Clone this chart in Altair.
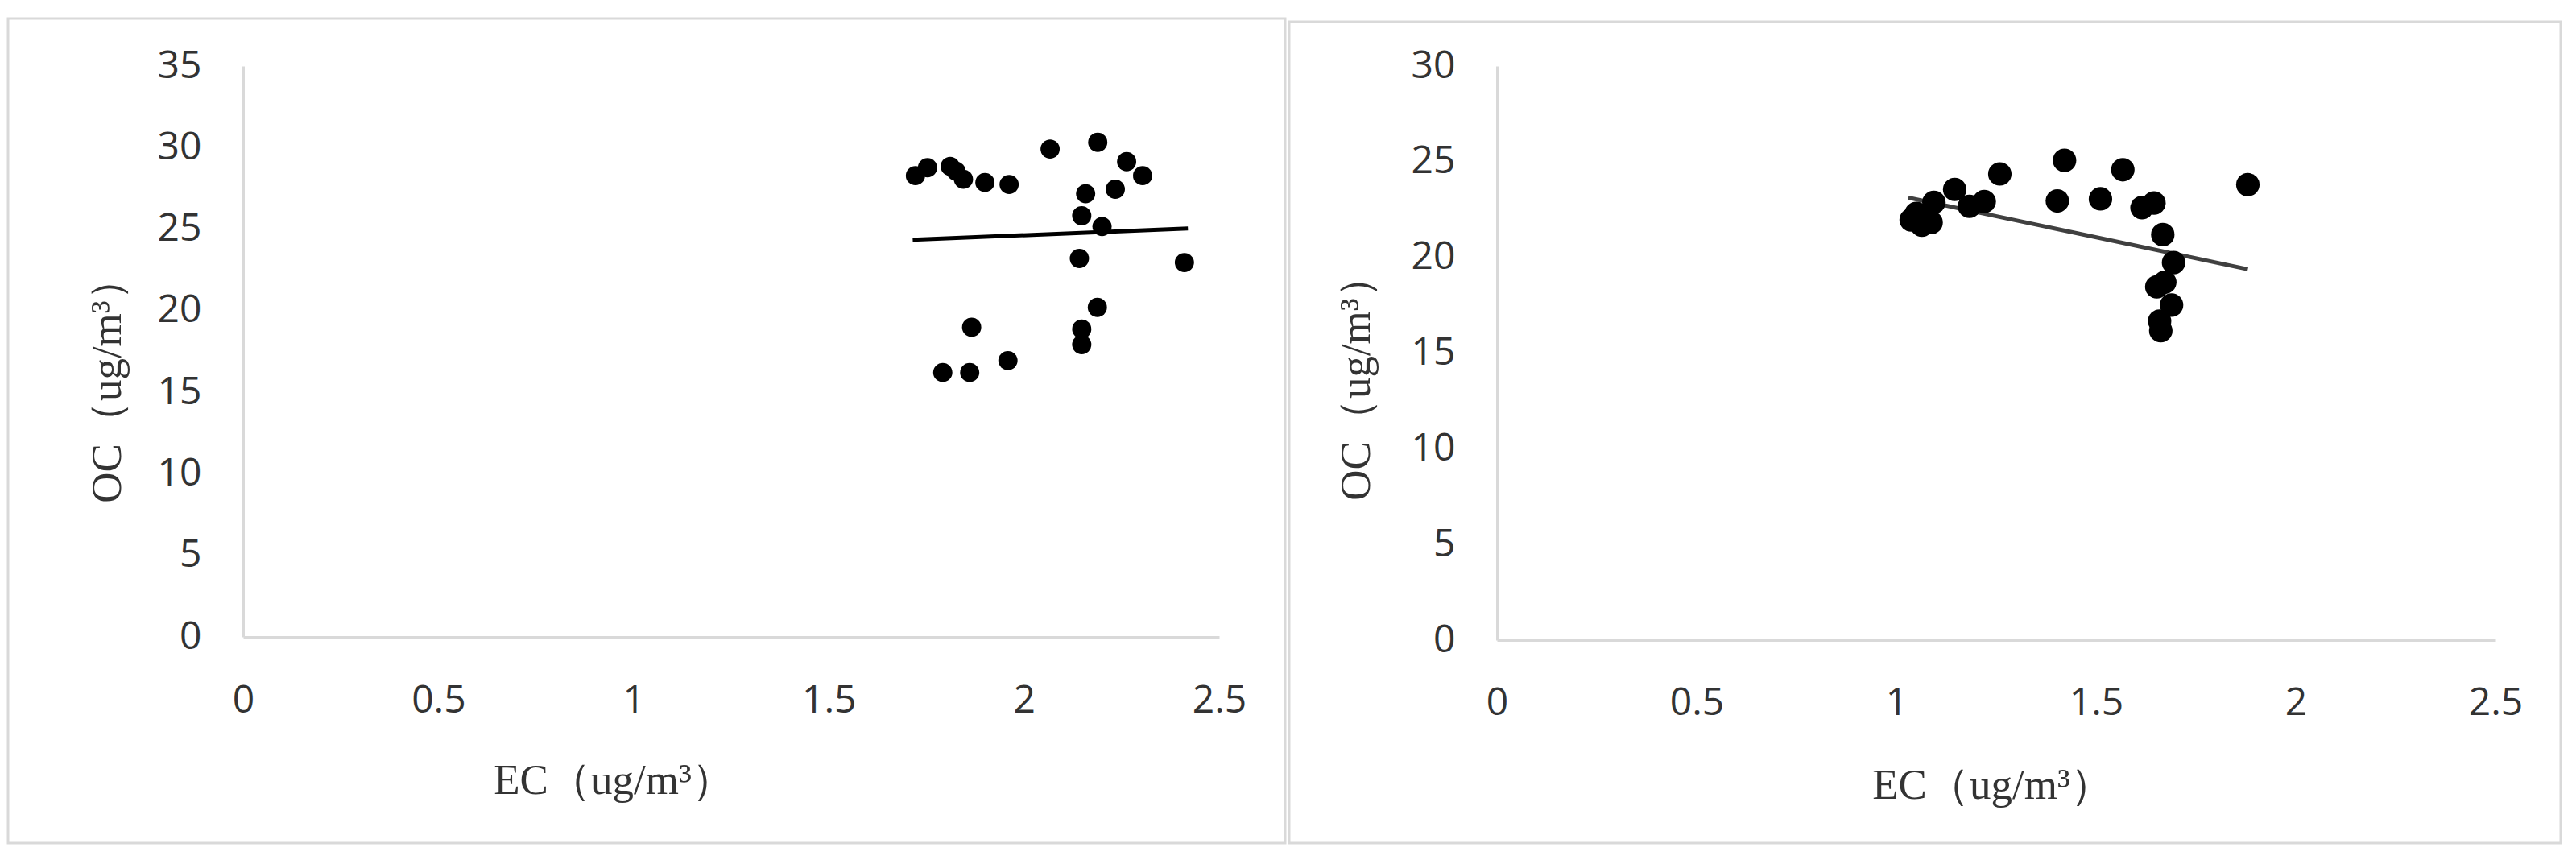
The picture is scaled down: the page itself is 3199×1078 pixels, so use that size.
import altair as alt
import pandas as pd

# ---------------- data ----------------
left_ec = [1.722, 1.753, 1.811, 1.826, 1.845, 1.900, 1.962, 2.067, 2.189, 2.263, 2.304, 2.158,
           2.234, 2.148, 2.200, 2.142, 2.411, 2.188, 2.148, 2.148, 1.866, 1.959, 1.792, 1.861]
left_oc = [28.28, 28.77, 28.85, 28.55, 28.06, 27.86, 27.74, 29.91, 30.32, 29.14, 28.28, 27.17,
           27.45, 25.82, 25.16, 23.20, 22.95, 20.20, 18.87, 17.92, 18.98, 16.94, 16.21, 16.21]
left_trend_ec = [1.715, 2.42]
left_trend_oc = [24.35, 25.04]

right_ec = [1.037, 1.050, 1.064, 1.087, 1.094, 1.146, 1.183, 1.220, 1.259, 1.421, 1.403, 1.511,
            1.567, 1.615, 1.645, 1.667, 1.694, 1.652, 1.672, 1.689, 1.659, 1.662, 1.88]
right_oc = [21.96, 22.30, 21.68, 21.82, 22.88, 23.55, 22.67, 22.92, 24.36, 25.07, 22.95, 23.06,
            24.58, 22.60, 22.84, 21.19, 19.73, 18.46, 18.70, 17.51, 16.67, 16.17, 23.8]
right_trend_ec = [1.03, 1.88]
right_trend_oc = [23.12, 19.38]

x_ticks = [0, 0.5, 1, 1.5, 2, 2.5]
left_y_ticks = [0, 5, 10, 15, 20, 25, 30, 35]
right_y_ticks = [0, 5, 10, 15, 20, 25, 30]

x_title = "EC（ug/m³）"
y_title = "OC（ug/m³）"

LABEL_FONT = "Open Sans"
TITLE_FONT = "Liberation Serif"
GRAY = "#d9d9d9"
TEXT = "#333333"


def panel(ec, oc, tr_ec, tr_oc, ymax, yvals, width, height, size, line_color,
          border, ytitle_xy, xtitle_xy, xlabpad):
    pts = pd.DataFrame({"EC": ec, "OC": oc})
    tr = pd.DataFrame({"EC": tr_ec, "OC": tr_oc})

    common_axis = dict(domainColor=GRAY, domainWidth=3, ticks=False, tickSize=0, grid=False,
                       labelFont=LABEL_FONT, labelFontSize=48, labelColor=TEXT,
                       titleFont=TITLE_FONT, titleFontSize=53, titleColor=TEXT,
                       titleFontWeight="normal", labelOverlap=False, labelFlush=False)

    x = alt.X("EC:Q", scale=alt.Scale(domain=[0, 2.5], nice=False, zero=True),
              axis=alt.Axis(values=x_ticks, format="~g", title=x_title,
                            titleX=xtitle_xy[0], titleY=xtitle_xy[1], titleAngle=0,
                            titleAlign="center", titleBaseline="middle",
                            labelPadding=xlabpad, **common_axis))
    y = alt.Y("OC:Q", scale=alt.Scale(domain=[0, ymax], nice=False, zero=True),
              axis=alt.Axis(values=yvals, format="~g", title=y_title,
                            titleX=ytitle_xy[0], titleY=ytitle_xy[1], titleAngle=270,
                            titleAlign="center", titleBaseline="middle",
                            labelPadding=52, **common_axis))

    frame = alt.Chart(pd.DataFrame({"k": [0]})).mark_rect(
        filled=False, stroke=GRAY, strokeWidth=3
    ).encode(x=alt.value(border[0]), x2=alt.value(border[1]),
             y=alt.value(border[2]), y2=alt.value(border[3]))

    points = alt.Chart(pts).mark_circle(size=size, color="black", opacity=1).encode(x=x, y=y)
    line = alt.Chart(tr).mark_line(color=line_color, strokeWidth=5).encode(x=x, y=y)

    return alt.layer(frame, line, points).properties(width=width, height=height)


left = panel(left_ec, left_oc, left_trend_ec, left_trend_oc, 35, left_y_ticks,
             1212, 709, 570, "black",
             border=(-292, 1294, -59, 965), ytitle_xy=(-169, 390), xtitle_xy=(460, 178),
             xlabpad=55)
right = panel(right_ec, right_oc, right_trend_ec, right_trend_oc, 30, right_y_ticks,
              1240, 713, 850, "#404040",
              border=(-258, 1321, -55, 965), ytitle_xy=(-175, 387), xtitle_xy=(615, 180),
              xlabpad=54)

chart = alt.hconcat(left, right, spacing=345, bounds="flush").properties(
    padding={"left": 0, "top": 13, "right": 0, "bottom": 0},
    background="white",
).configure_view(strokeWidth=0)

chart.save("out.html", embed_options={"renderer": "svg", "actions": False})
